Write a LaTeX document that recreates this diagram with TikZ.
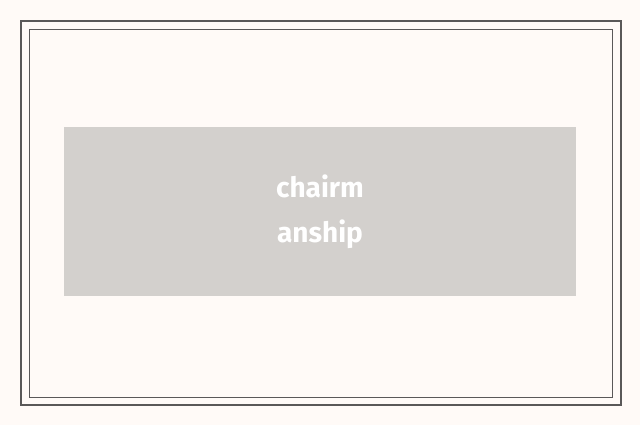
\documentclass[tikz,border=0pt]{standalone}
\usepackage{fontspec}
\setmainfont{Fira Sans}
\definecolor{bg}{HTML}{FFFAF7}
\definecolor{frame}{HTML}{5A5858}
\definecolor{boxc}{HTML}{D3D0CD}
\begin{document}
\begin{tikzpicture}[x=1pt,y=1pt]
\fill[bg] (0,0) rectangle (640,425);
\useasboundingbox (0,0) rectangle (640,425);
\draw[frame,line width=1.5pt] (21,20) rectangle (621,404);
\draw[frame,line width=0.7pt] (29,28) rectangle (612,396);
\node[fill=boxc,minimum width=512pt,minimum height=169pt,inner sep=0pt] (box) at (320,213.5) {};
\node[text=white,font=\fontsize{28}{45}\selectfont\bfseries,align=center] (t) at (box.center) {chairm\\anship};
\end{tikzpicture}
\end{document}
